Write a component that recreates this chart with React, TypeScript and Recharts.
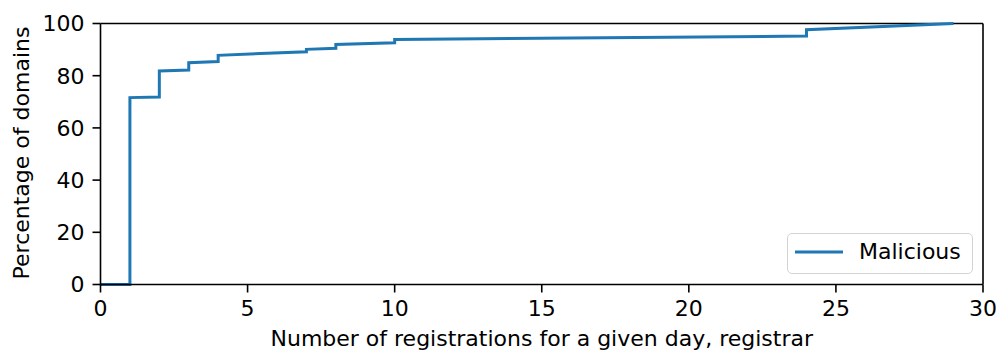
import React from 'react';
import { LineChart, Line, XAxis, YAxis, ReferenceLine, Legend } from 'recharts';

// Empirical CDF: registrations per day/registrar (x) vs cumulative % of domains (y)
const registrations: number[] = [0, 1, 1, 2, 2, 3, 3, 4, 4, 7, 7, 8, 8, 10, 10, 24, 24, 29];
const percentDomains: number[] = [0, 0, 71.6, 71.8, 81.8, 82.2, 85.0, 85.4, 87.8, 89.2, 90.1, 90.5, 92.0, 92.6, 93.9, 95.2, 97.6, 100];
const xTicks: number[] = [0, 5, 10, 15, 20, 25, 30];
const yTicks: number[] = [0, 20, 40, 60, 80, 100];
const seriesName = 'Malicious';

const data = registrations.map((x, i) => ({ x, y: percentDomains[i] }));

const FONT = '"DejaVu Sans", sans-serif';
const FS = 22;
const BLUE = '#1f77b4';

const renderLegend = (props: any) => {
  const item = (props.payload && props.payload[0]) || { value: seriesName, color: BLUE };
  return (
    <div
      style={{
        width: 186,
        height: 41,
        boxSizing: 'border-box',
        border: '1.5px solid #d4d4d4',
        borderRadius: 5,
        background: 'rgba(255,255,255,0.8)',
        position: 'relative',
      }}
    >
      <svg width={186} height={41} style={{ position: 'absolute', left: -1.5, top: -1.5 }}>
        <line x1={8} x2={56} y1={19} y2={19} stroke={item.color || BLUE} strokeWidth={3} />
        <text x={72} y={26} fontSize={FS} fontFamily={FONT} fill="#000">
          {item.value}
        </text>
      </svg>
    </div>
  );
};

const YLabel = (props: any) => {
  const vb = props.viewBox || { x: 0, y: 0, width: 0, height: 0 };
  const cx = vb.x + 28;
  const cy = vb.y + vb.height / 2 - 1;
  return (
    <text
      x={cx}
      y={cy}
      transform={`rotate(-90, ${cx}, ${cy})`}
      textAnchor="middle"
      fontSize={FS}
      fontFamily={FONT}
      fill="#000"
    >
      Percentage of domains
    </text>
  );
};

export default function App() {
  return (
    <div style={{ position: 'absolute', left: 0, top: 0, width: 1000, height: 352, background: '#fff' }}>
      <LineChart
        width={1000}
        height={352}
        data={data}
        margin={{ top: 23.5, right: 17, left: 0.5, bottom: 0 }}
      >
        <XAxis
          dataKey="x"
          type="number"
          domain={[0, 30]}
          ticks={xTicks}
          height={67.5}
          tickSize={8}
          tickMargin={8}
          stroke="#000"
          axisLine={{ stroke: '#000', strokeWidth: 1.6 }}
          tickLine={{ stroke: '#000', strokeWidth: 1.6 }}
          tick={{ fill: '#000', fontSize: FS, fontFamily: FONT }}
          label={{
            value: 'Number of registrations for a given day, registrar',
            position: 'insideBottom',
            offset: 6,
            fill: '#000',
            fontSize: FS,
            fontFamily: FONT,
          }}
        />
        <YAxis
          type="number"
          domain={[0, 100]}
          ticks={yTicks}
          width={100}
          tickSize={8}
          tickMargin={8}
          stroke="#000"
          axisLine={{ stroke: '#000', strokeWidth: 1.6 }}
          tickLine={{ stroke: '#000', strokeWidth: 1.6 }}
          tick={{ fill: '#000', fontSize: FS, fontFamily: FONT }}
          label={<YLabel />}
        />
        <ReferenceLine y={100} stroke="#000" strokeWidth={1.6} />
        <ReferenceLine x={30} stroke="#000" strokeWidth={1.6} />
        <Legend
          layout="vertical"
          verticalAlign="middle"
          align="center"
          content={renderLegend}
          wrapperStyle={{ position: 'absolute', left: 787, top: 233, width: 186, height: 41 }}
        />
        <Line
          type="linear"
          dataKey="y"
          name={seriesName}
          stroke={BLUE}
          strokeWidth={3}
          dot={false}
          activeDot={false}
          isAnimationActive={false}
          strokeLinejoin="miter"
        />
      </LineChart>
    </div>
  );
}
